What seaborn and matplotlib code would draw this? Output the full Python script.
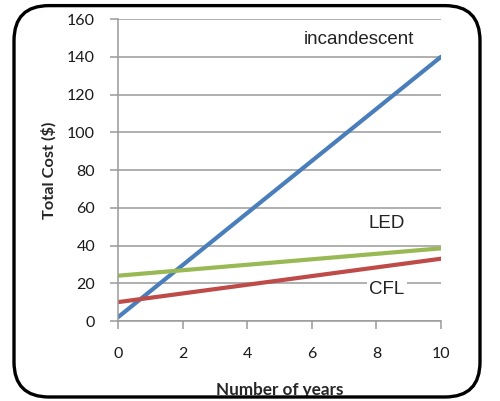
import matplotlib
matplotlib.use("Agg")
import matplotlib.pyplot as plt
from matplotlib.patches import FancyBboxPatch
import seaborn as sns
import pandas as pd

years = [0, 10]
incandescent = [2, 140]
led = [24, 38.5]
cfl = [10, 33]
series_names = ["incandescent", "LED", "CFL"]
colors = ["#4A7EBB", "#98B954", "#BE4B48"]
x_ticks = [0, 2, 4, 6, 8, 10]
y_ticks = [0, 20, 40, 60, 80, 100, 120, 140, 160]

df = pd.DataFrame({
    "years": years * 3,
    "cost": incandescent + led + cfl,
    "series": [series_names[0]] * 2 + [series_names[1]] * 2 + [series_names[2]] * 2,
})

sns.set_theme(style="white")
plt.rcParams["font.family"] = ["Lato", "DejaVu Sans"]

fig = plt.figure(figsize=(5.0, 4.01), dpi=100)
ax = fig.add_axes([0.236, 0.1995, 0.646, 0.753])

sns.lineplot(data=df, x="years", y="cost", hue="series", palette=colors,
             hue_order=series_names, linewidth=3.0, legend=False, ax=ax)

ax.set_xlim(0, 10)
ax.set_ylim(0, 160)
ax.set_xticks(x_ticks)
ax.set_yticks(y_ticks)
ax.yaxis.grid(True, color="#9a9a9a", linewidth=1.1)
ax.set_axisbelow(True)
for s in ["top", "right"]:
    ax.spines[s].set_visible(False)
for s in ["left", "bottom"]:
    ax.spines[s].set_color("#9a9a9a")
    ax.spines[s].set_linewidth(1.1)
ax.tick_params(axis="y", length=6, width=1.1, color="#9a9a9a", pad=10.5, labelsize=11.5, labelcolor="#1a1a1a")
ax.tick_params(axis="x", length=6, width=1.1, color="#9a9a9a", pad=13, labelsize=11.5, labelcolor="#1a1a1a", direction="out")
ax.tick_params(left=True, bottom=True)

ax.set_xlabel("Number of years", fontsize=12.3, fontweight="bold", va="center")
ax.set_ylabel("Total Cost ($)", fontsize=11.8, fontweight="bold", va="center")
ax.xaxis.set_label_coords(0.5, -0.228)
ax.yaxis.set_label_coords(-0.2136, 0.5)

lab_font = ["Liberation Sans", "DejaVu Sans"]
ax.text(7.46, 149, "incandescent", fontsize=13.5, ha="center", va="center", color="#222222", family=lab_font)
ax.text(8.33, 51.5, "LED", fontsize=13.5, ha="center", va="center", color="#222222", family=lab_font)
ax.text(8.33, 16.5, "CFL", fontsize=13.5, ha="center", va="center", color="#222222", family=lab_font,
        bbox=dict(facecolor="white", edgecolor="none", pad=2))

border = FancyBboxPatch((0.028, 0.010), 0.932, 0.976,
                        boxstyle="round,pad=0,rounding_size=0.07",
                        transform=fig.transFigure, fill=False,
                        edgecolor="black", linewidth=2.4, mutation_aspect=1.25)
fig.patches.append(border)

fig.savefig("out.png", dpi=100)
